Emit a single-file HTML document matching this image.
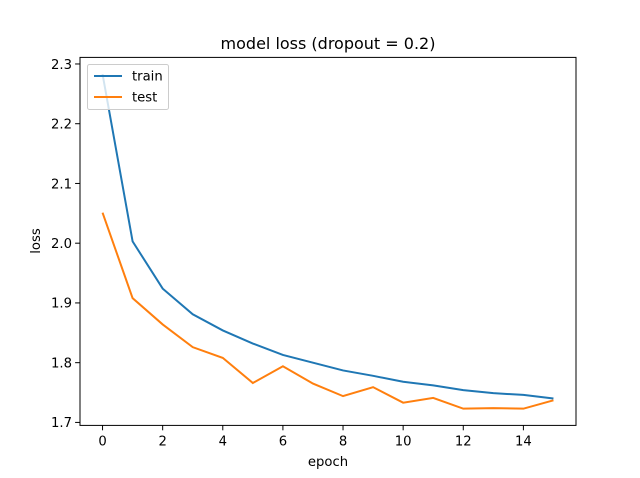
<!DOCTYPE html>
<html><head><meta charset="utf-8"><style>
body{margin:0;background:#fff}
svg{display:block;font-family:"DejaVu Sans","Liberation Sans",sans-serif}
</style></head><body>
<svg id="c" width="640" height="478">
<rect width="640" height="478" fill="#fff"/>
<g id="plot"></g>
</svg>
<script>
const epochs=[0,1,2,3,4,5,6,7,8,9,10,11,12,13,14,15];
const trainLoss=[2.283,2.003,1.924,1.881,1.854,1.832,1.813,1.800,1.787,1.778,1.768,1.762,1.754,1.749,1.746,1.740];
const testLoss=[2.051,1.908,1.864,1.826,1.808,1.766,1.794,1.765,1.744,1.759,1.733,1.741,1.723,1.724,1.723,1.737];
const xTicks=[0,2,4,6,8,10,12,14];
const yTicks=[1.7,1.8,1.9,2.0,2.1,2.2,2.3];
const L=80,R=576,T=57.4,B=425.4;
const all=trainLoss.concat(testLoss);
const mn=Math.min(...all),mx=Math.max(...all),pad=(mx-mn)*0.05;
const y0=mn-pad,y1=mx+pad;
const x0=-0.75,x1=15.75;
const sx=v=>L+(v-x0)/(x1-x0)*(R-L);
const sy=v=>B-(v-y0)/(y1-y0)*(B-T);
const NS="http://www.w3.org/2000/svg";
const g=document.getElementById('plot');
function mk(t,a,txt){const e=document.createElementNS(NS,t);for(const k in a)e.setAttribute(k,a[k]);if(txt!=null)e.textContent=txt;g.appendChild(e);return e;}
xTicks.forEach(v=>{const x=sx(v);
const t=mk('line',{x1:x,x2:x,y1:B,y2:B+4.9,stroke:'#000','stroke-width':1});


const l=mk('text',{x:x,y:B+20,'font-size':13.2,'text-anchor':'middle'},v);

});
yTicks.forEach(v=>{const y=sy(v);
const t=mk('line',{x1:L-4.9,x2:L,y1:y,y2:y,stroke:'#000','stroke-width':1});


const l=mk('text',{x:L-8,y:y+4.8,'font-size':13.2,'text-anchor':'end'},v.toFixed(1));

});
function line(data,color,name){const p=mk('polyline',{points:data.map((v,i)=>sx(epochs[i])+','+sy(v)).join(' '),fill:'none',stroke:color,'stroke-width':2});

}
line(trainLoss,'#1f77b4','train-line');
line(testLoss,'#ff7f0e','test-line');
const f=mk('rect',{x:L,y:T,width:R-L,height:B-T,fill:'none',stroke:'#000','stroke-width':1});


</script>
<svg style="position:absolute;left:0;top:0" width="640" height="478">
<text x="328" y="49" font-size="16" text-anchor="middle" font-family="DejaVu Sans,Liberation Sans,sans-serif">model loss (dropout = 0.2)</text>
<text x="328" y="466" font-size="13.2" text-anchor="middle" font-family="DejaVu Sans,Liberation Sans,sans-serif">epoch</text>
<text x="0" y="0" font-size="13.2" text-anchor="middle" transform="translate(40,241) rotate(-90)" font-family="DejaVu Sans,Liberation Sans,sans-serif">loss</text>
<g>
<rect x="87.5" y="64.5" width="81" height="45" rx="2" fill="#fff" fill-opacity="0.8" stroke="#ccc"/>
<line x1="94" x2="122" y1="76" y2="76" stroke="#1f77b4" stroke-width="2"/>
<text x="132" y="80.5" font-size="13.2" font-family="DejaVu Sans,Liberation Sans,sans-serif">train</text>
<line x1="94" x2="122" y1="97" y2="97" stroke="#ff7f0e" stroke-width="2"/>
<text x="132" y="101.5" font-size="13.2" font-family="DejaVu Sans,Liberation Sans,sans-serif">test</text>
</g>
</svg>
</body></html>
